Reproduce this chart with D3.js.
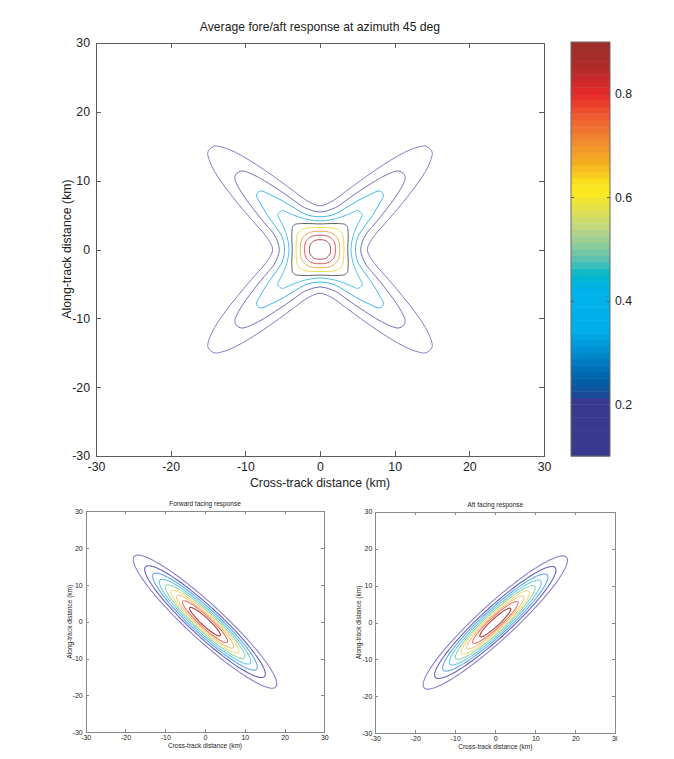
<!DOCTYPE html>
<html>
<head>
<meta charset="utf-8">
<script src="https://cdn.jsdelivr.net/npm/d3@7"></script>
<style>
  body { margin: 0; background: #fff; }
  svg text { font-family: "Liberation Sans", Arial, Helvetica, sans-serif; fill: #222; }
  .ax path, .ax line { stroke: #5c5c5c; shape-rendering: crispEdges; }
</style>
</head>
<body>
<svg width="674" height="759"></svg>
<script>
// contour levels and axis ticks
const levels = [0.1, 0.2, 0.3, 0.4, 0.5, 0.6, 0.7, 0.8, 0.9];
const axisTicks = [-30, -20, -10, 0, 10, 20, 30];
const cbarTicks = [0.2, 0.4, 0.6, 0.8];

// averaged response: one octant (x >= y >= 0) of each contour, km
const avgOct01 = [[6.35, 0], [7.2, 1.9], [8.4, 3.4], [10.0, 5.4], [11.6, 7.5], [13.0, 9.5], [14.1, 11.3], [14.9, 13.2], [15.0, 14.2]];
const avgOct02 = [[5.45, 0], [6.1, 2.1], [6.9, 3.2], [8.0, 4.6], [9.0, 6.0], [10.0, 7.45], [10.9, 9.0], [11.4, 10.3], [11.3, 10.85]];
const avgOct03 = [[4.75, 0], [5.05, 1.75], [6.0, 3.4], [7.0, 4.9], [8.0, 6.75], [8.5, 7.95]];
const avgOct04 = [[4.15, 0], [4.3, 1.35], [4.6, 2.5], [5.05, 3.65], [5.5, 4.6], [5.65, 5.1]];
const avgOct05 = [[3.72, 0], [3.78, 2.0], [3.72, 3.05], [3.68, 3.3]];
const avgOct06 = [[3.2, 0], [3.13, 1.6], [2.97, 2.33]];
const avgOct07 = [[2.65, 0], [2.52, 1.25], [2.2, 1.85]];
const avgOct08 = [[2.07, 0], [1.97, 0.95], [1.7, 1.42]];
const avgOct09 = [[1.42, 0], [1.34, 0.65], [1.14, 0.95]];
const avgOctants = [avgOct01, avgOct02, avgOct03, avgOct04, avgOct05, avgOct06, avgOct07, avgOct08, avgOct09];
const avgColors = ['#8080c6', '#7272bd', '#3cb6ec', '#4cc0ef', '#626262', '#f5da50', '#f2ab62', '#e75c5c', '#b44e4e'];

// single beam ellipses (semi-axes, km) for each level
const beamMajor = [25.1, 21.1, 18.3, 16.0, 13.9, 11.9, 10.0, 7.9, 5.4];
const beamMinor = [4.6, 3.85, 3.35, 2.9, 2.5, 2.15, 1.8, 1.45, 1.0];
const beamColors = ['#8a80d0', '#6464be', '#62a6ec', '#6cc8ee', '#96d6ae', '#f0de80', '#f6c486', '#e67a6c', '#a84444'];

// colorbar colormap stops
const cbarStopVals = [0.1, 0.208, 0.215, 0.247, 0.279, 0.311, 0.344, 0.42, 0.45, 0.479, 0.51, 0.543, 0.575, 0.605, 0.627, 0.665, 0.71, 0.762, 0.8, 0.852, 0.9];
const cbarStopCols = ['#39398f', '#393990', '#1c4896', '#0060a8', '#0078c0', '#0096d8', '#00aeea', '#00b2ea', '#00b8cc', '#58c0b0', '#90cc98', '#c0d880', '#e0e050', '#fae820', '#fbe41e', '#f4b020', '#f08a30', '#ee5530', '#e82828', '#b02a2a', '#9a3028'];

const svg = d3.select('svg');

function octToLoop(oct) {
  const seen = new Map();
  oct.forEach(([a, b]) => {
    [[a, b], [b, a]].forEach(([p, q]) => {
      [[p, q], [-p, q], [p, -q], [-p, -q]].forEach(pt => {
        seen.set(pt[0].toFixed(3) + ',' + pt[1].toFixed(3), pt);
      });
    });
  });
  return Array.from(seen.values()).sort((m, n) => Math.atan2(m[1], m[0]) - Math.atan2(n[1], n[0]));
}

function frame(g, x, y, o) {
  const [x0, x1] = x.range(), [y0, y1] = y.range();
  const fmt = d => String(d);
  g.append('g').attr('class', 'ax').attr('transform', `translate(0,${y0})`)
    .call(d3.axisBottom(x).tickValues(axisTicks).tickSize(-o.tick).tickSizeOuter(0).tickPadding(o.pad).tickFormat(fmt))
    .call(s => s.selectAll('text').style('font-size', o.font + 'px'));
  g.append('g').attr('class', 'ax').attr('transform', `translate(0,${y1})`)
    .call(d3.axisTop(x).tickValues(axisTicks).tickSize(-o.tick).tickSizeOuter(0).tickFormat(''));
  g.append('g').attr('class', 'ax').attr('transform', `translate(${x0},0)`)
    .call(d3.axisLeft(y).tickValues(axisTicks).tickSize(-o.tick).tickSizeOuter(0).tickPadding(o.pad).tickFormat(fmt))
    .call(s => s.selectAll('text').style('font-size', o.font + 'px'));
  g.append('g').attr('class', 'ax').attr('transform', `translate(${x1},0)`)
    .call(d3.axisRight(y).tickValues(axisTicks).tickSize(-o.tick).tickSizeOuter(0).tickFormat(''));
  g.selectAll('.ax text').attr('fill', '#222');
}

// ---------- main plot ----------
const mx = d3.scaleLinear().domain([-30, 30]).range([96, 544]);
const my = d3.scaleLinear().domain([-30, 30]).range([456, 43]);
const main = svg.append('g');

const loopLine = (x, y) => d3.line().x(d => x(d[0])).y(d => y(d[1])).curve(d3.curveCatmullRomClosed.alpha(0.5));

main.selectAll('path.avg')
  .data(avgOctants)
  .enter().append('path')
  .attr('class', 'avg')
  .attr('d', d => loopLine(mx, my)(octToLoop(d)))
  .attr('fill', 'none')
  .attr('stroke', (d, i) => avgColors[i])
  .attr('stroke-width', 1);

frame(main, mx, my, { tick: 5, pad: 6, font: 12.3 });

main.append('text').attr('x', 320).attr('y', 31).attr('text-anchor', 'middle')
  .style('font-size', '12.2px').text('Average fore/aft response at azimuth 45 deg');
main.append('text').attr('x', 320).attr('y', 487).attr('text-anchor', 'middle')
  .style('font-size', '12.3px').text('Cross-track distance (km)');
main.append('text').attr('transform', 'translate(71,249) rotate(-90)').attr('text-anchor', 'middle')
  .style('font-size', '12.3px').text('Along-track distance (km)');

// ---------- colorbar ----------
const cy = d3.scaleLinear().domain([0.1, 0.9]).range([456, 42]);
const cmap = d3.scaleLinear().domain(cbarStopVals).range(cbarStopCols).interpolate(d3.interpolateRgb);
const nCells = 64;
const step = (cy.domain()[1] - cy.domain()[0]) / nCells;
const cbar = svg.append('g');
cbar.selectAll('rect.cell')
  .data(d3.range(nCells))
  .enter().append('rect')
  .attr('class', 'cell')
  .attr('x', 571).attr('width', 39)
  .attr('y', i => cy(0.1 + (i + 1) * step))
  .attr('height', i => cy(0.1 + i * step) - cy(0.1 + (i + 1) * step) + 0.5)
  .attr('fill', i => cmap(0.1 + (i + 0.5) * step));
cbar.append('rect').attr('x', 571).attr('y', 42).attr('width', 39).attr('height', 414)
  .attr('fill', 'none').attr('stroke', '#6a6a6a');
cbar.append('g').attr('class', 'ax').attr('transform', 'translate(610,0)')
  .call(d3.axisRight(cy).tickValues(cbarTicks).tickSize(-3).tickSizeOuter(0).tickPadding(5).tickFormat(d3.format('.1f')))
  .call(s => s.select('.domain').remove())
  .call(s => s.selectAll('text').style('font-size', '12.3px').attr('fill', '#222'));
cbar.append('g').attr('class', 'ax').attr('transform', 'translate(571,0)')
  .call(d3.axisLeft(cy).tickValues(cbarTicks).tickSize(-3).tickSizeOuter(0).tickFormat(''))
  .call(s => s.select('.domain').remove());

// ---------- bottom beams ----------
const ellipseAngles = d3.range(0, 360, 3);
function beamLoop(a, b, rot) {
  const c = Math.cos(rot), s = Math.sin(rot);
  return ellipseAngles.map(t => {
    const u = a * Math.cos(t * Math.PI / 180), v = b * Math.sin(t * Math.PI / 180);
    return [u * c - v * s, u * s + v * c];
  });
}

function beamPanel(title, rotDeg, xr, yr, labelX, clipRight) {
  const bx = d3.scaleLinear().domain([-30, 30]).range(xr);
  const by = d3.scaleLinear().domain([-30, 30]).range(yr);
  const g = svg.append('g');
  if (clipRight) {
    const id = 'clip' + rotDeg;
    svg.append('clipPath').attr('id', id).append('rect').attr('x', 0).attr('y', 490).attr('width', clipRight).attr('height', 269);
    g.attr('clip-path', `url(#${id})`);
  }
  g.selectAll('path.beam')
    .data(levels)
    .enter().append('path')
    .attr('class', 'beam')
    .attr('d', (d, i) => loopLine(bx, by)(beamLoop(beamMajor[i], beamMinor[i], rotDeg * Math.PI / 180)))
    .attr('fill', 'none')
    .attr('stroke', (d, i) => beamColors[i])
    .attr('stroke-width', 1.1);
  frame(g, bx, by, { tick: 3, pad: 3, font: 7 });
  g.selectAll('.ax path, .ax line').style('stroke', '#8a8a8a');
  const cx = (xr[0] + xr[1]) / 2;
  g.append('text').attr('x', cx).attr('y', yr[1] - 5).attr('text-anchor', 'middle')
    .style('font-size', '6.5px').text(title);
  g.append('text').attr('x', cx).attr('y', yr[0] + 16).attr('text-anchor', 'middle')
    .style('font-size', '6.5px').text('Cross-track distance (km)');
  g.append('text').attr('transform', `translate(${labelX},${(yr[0] + yr[1]) / 2}) rotate(-90)`).attr('text-anchor', 'middle')
    .style('font-size', '6.5px').text('Along-track distance (km)');
}

beamPanel('Forward facing response', -45, [85.7, 324.3], [732.3, 511], 71.5, null);
beamPanel('Aft facing response', 45, [375.3, 615.3], [733.3, 511.7], 360.5, 617.5);
</script>
</body>
</html>
